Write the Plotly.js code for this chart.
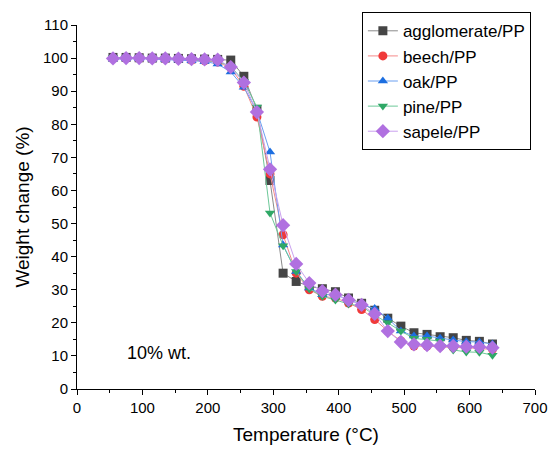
<!DOCTYPE html>
<html>
<head>
<meta charset="utf-8">
<script src="https://cdn.plot.ly/plotly-3.0.1.min.js"></script>
<style>html,body{margin:0;padding:0;background:#fff;}#chart{width:552px;height:455px;}</style>
</head>
<body>
<div id="chart"></div>
<script>
const temperature = [55,75,95,115,135,155,175,195,215,235,255,275,295,315,335,355,375,395,415,435,455,475,495,515,535,555,575,595,615,635];
const agglomerate = [100.2,100.2,100.1,100,100,99.9,99.8,99.7,99.6,99.4,94.5,84.5,63,35,32.5,31,30.3,29.4,27.5,25.9,23.8,21.4,19,17,16.5,15.8,15.5,14.7,14.4,13.6];
const beech = [100,100,100,99.9,99.8,99.6,99.4,99.2,98.8,97,91.5,82.2,65,46.6,35,30,28,27.5,26,24,21,17.5,14.5,13,13,12.8,12.5,12.5,12.2,12];
const oak = [99.7,99.8,99.8,99.7,99.6,99.4,99.2,99,98.2,95.8,91.2,84,71.6,43.5,35.5,30.5,28.5,28.5,27,25.5,24.3,21.4,17.5,16,16,15.3,14.8,14.3,14.2,13.6];
const pine = [100.2,100.2,100.1,100,99.9,99.7,99.6,99.4,99,97.5,93,85.2,53.2,43.3,35.5,30.3,28,26.9,25.7,25,22.3,20,17.5,15.3,15,14.5,11.8,11.2,11.1,10.2];
const sapele = [99.9,100,100,99.9,99.9,99.8,99.7,99.6,99.5,97.3,92.6,83.7,66.4,49.5,37.8,32,29.6,28.5,26.9,25.4,22.7,17.5,14.2,13.5,13.3,13,13,12.8,12.7,12.5];
const seriesNames = ["agglomerate/PP","beech/PP","oak/PP","pine/PP","sapele/PP"];
const annotationText = "10% wt.";

const series = [agglomerate, beech, oak, pine, sapele];
const markerColors = ["#454545","#f03a3a","#1c6ee0","#2fa866","#b070e0"];
const lineColors = ["#8a8a8a","#f58a8a","#6a9ff0","#6cc898","#c9a0ef"];
const symbols = ["square","circle","triangle-up","triangle-down","diamond"];

const traces = series.map((ys, i) => ({
  x: temperature, y: ys, name: seriesNames[i], type: "scatter", mode: "lines+markers",
  line: {color: lineColors[i], width: 1},
  marker: {symbol: symbols[i], size: i === 4 ? 11 : 9, color: markerColors[i]}
}));

const axisFont = {family: "Liberation Sans, Arial, sans-serif", size: 15, color: "#000"};
const layout = {
  width: 552, height: 455,
  margin: {l: 77, r: 17, t: 18, b: 66},
  paper_bgcolor: "#fff", plot_bgcolor: "#fff",
  font: {family: "Liberation Sans, Arial, sans-serif", color: "#000"},
  showlegend: true,
  legend: {x: 0.622, y: 1.035, xanchor: "left", yanchor: "top", bordercolor: "#000", borderwidth: 1,
           bgcolor: "#fff", font: {size: 17, color: "#000"}, tracegroupgap: 0},
  xaxis: {range: [0, 700], dtick: 100, tick0: 0, showgrid: false, zeroline: false,
          showline: true, linecolor: "#000", linewidth: 1, ticks: "outside", ticklen: 5, tickcolor: "#000",
          tickfont: axisFont,
          minor: {dtick: 50, ticks: "outside", ticklen: 3, tickcolor: "#000", showgrid: false},
          title: {text: "Temperature (°C)", font: {size: 19, color: "#000"}, standoff: 12}},
  yaxis: {range: [0, 110], dtick: 10, tick0: 0, showgrid: false, zeroline: false,
          showline: true, linecolor: "#000", linewidth: 1, ticks: "outside", ticklen: 5, tickcolor: "#000",
          tickfont: axisFont,
          minor: {dtick: 5, ticks: "outside", ticklen: 3, tickcolor: "#000", showgrid: false},
          title: {text: "Weight change (%)", font: {size: 19, color: "#000"}, standoff: 8}},
  annotations: [{x: 74, y: 11, xref: "x", yref: "y", xanchor: "left", yanchor: "middle",
                 text: annotationText, showarrow: false, font: {size: 18, color: "#000"}}]
};
Plotly.newPlot("chart", traces, layout, {displayModeBar: false, staticPlot: true});
</script>
</body>
</html>
